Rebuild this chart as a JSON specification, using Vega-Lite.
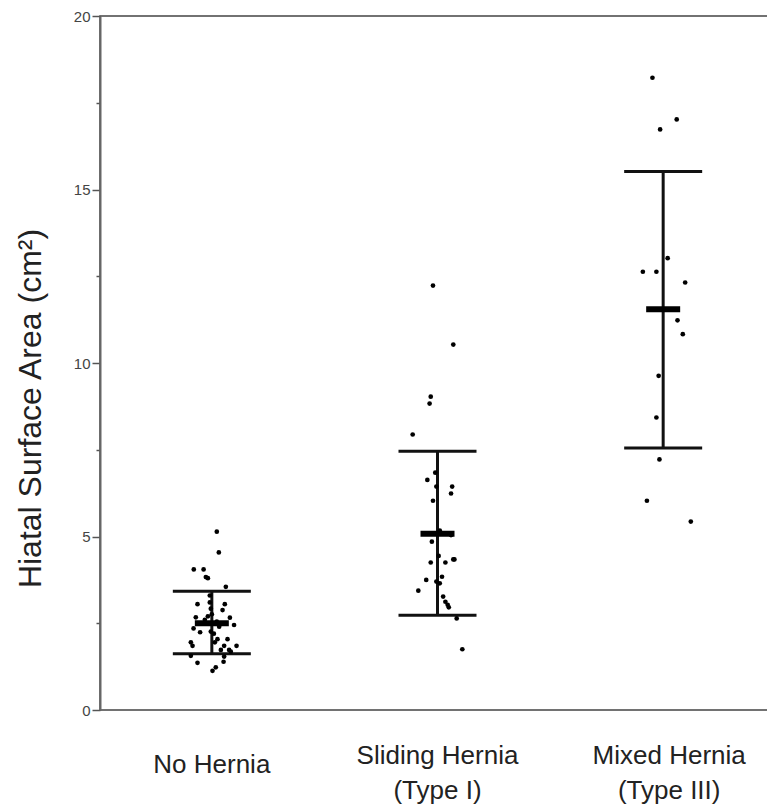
{
  "$schema": "https://vega.github.io/schema/vega-lite/v6.json",
  "autosize": "none",
  "width": 670,
  "height": 694,
  "padding": {"left": 100, "top": 16, "right": 0, "bottom": 102},
  "background": "white",
  "config": {
    "view": {"stroke": "#444", "strokeWidth": 1.5},
    "font": "Liberation Sans"
  },
  "datasets": {
    "points": [
      {"group": "No Hernia", "jitter": 0.044, "area": 5.14},
      {"group": "No Hernia", "jitter": 0.062, "area": 4.54},
      {"group": "No Hernia", "jitter": -0.16, "area": 4.05},
      {"group": "No Hernia", "jitter": -0.073, "area": 4.05},
      {"group": "No Hernia", "jitter": -0.053, "area": 3.83},
      {"group": "No Hernia", "jitter": -0.035, "area": 3.8},
      {"group": "No Hernia", "jitter": 0.124, "area": 3.55},
      {"group": "No Hernia", "jitter": -0.127, "area": 3.05},
      {"group": "No Hernia", "jitter": -0.018, "area": 3.3},
      {"group": "No Hernia", "jitter": -0.018, "area": 3.1},
      {"group": "No Hernia", "jitter": -0.009, "area": 2.92},
      {"group": "No Hernia", "jitter": 0.0, "area": 2.76},
      {"group": "No Hernia", "jitter": 0.115, "area": 3.05},
      {"group": "No Hernia", "jitter": 0.095, "area": 2.88},
      {"group": "No Hernia", "jitter": -0.142, "area": 2.67},
      {"group": "No Hernia", "jitter": 0.16, "area": 2.66},
      {"group": "No Hernia", "jitter": 0.197, "area": 2.45},
      {"group": "No Hernia", "jitter": -0.162, "area": 2.35},
      {"group": "No Hernia", "jitter": -0.104, "area": 2.24},
      {"group": "No Hernia", "jitter": -0.009, "area": 2.26},
      {"group": "No Hernia", "jitter": 0.065, "area": 2.4},
      {"group": "No Hernia", "jitter": 0.05, "area": 2.04},
      {"group": "No Hernia", "jitter": 0.139, "area": 2.04},
      {"group": "No Hernia", "jitter": -0.186, "area": 1.95},
      {"group": "No Hernia", "jitter": -0.171, "area": 1.85},
      {"group": "No Hernia", "jitter": 0.219, "area": 1.85},
      {"group": "No Hernia", "jitter": 0.109, "area": 1.85},
      {"group": "No Hernia", "jitter": 0.08, "area": 1.73},
      {"group": "No Hernia", "jitter": 0.153, "area": 1.73},
      {"group": "No Hernia", "jitter": 0.168, "area": 1.68},
      {"group": "No Hernia", "jitter": -0.186, "area": 1.56},
      {"group": "No Hernia", "jitter": 0.109, "area": 1.54},
      {"group": "No Hernia", "jitter": 0.104, "area": 1.39},
      {"group": "No Hernia", "jitter": -0.127, "area": 1.36},
      {"group": "No Hernia", "jitter": 0.035, "area": 1.23},
      {"group": "No Hernia", "jitter": 0.006, "area": 1.13},
      {"group": "No Hernia", "jitter": -0.062, "area": 2.6},
      {"group": "No Hernia", "jitter": 0.044, "area": 2.55},
      {"group": "No Hernia", "jitter": -0.035, "area": 2.7},
      {"group": "No Hernia", "jitter": 0.018, "area": 2.2},
      {"group": "No Hernia", "jitter": 0.027, "area": 1.95},
      {"group": "Sliding Hernia (Type I)", "jitter": -0.04, "area": 12.23},
      {"group": "Sliding Hernia (Type I)", "jitter": 0.14, "area": 10.53},
      {"group": "Sliding Hernia (Type I)", "jitter": -0.06, "area": 9.03},
      {"group": "Sliding Hernia (Type I)", "jitter": -0.07, "area": 8.83},
      {"group": "Sliding Hernia (Type I)", "jitter": -0.22, "area": 7.94},
      {"group": "Sliding Hernia (Type I)", "jitter": -0.02, "area": 6.84},
      {"group": "Sliding Hernia (Type I)", "jitter": -0.09, "area": 6.63},
      {"group": "Sliding Hernia (Type I)", "jitter": -0.01, "area": 6.44},
      {"group": "Sliding Hernia (Type I)", "jitter": 0.13, "area": 6.44},
      {"group": "Sliding Hernia (Type I)", "jitter": 0.12, "area": 6.24},
      {"group": "Sliding Hernia (Type I)", "jitter": -0.04, "area": 6.03},
      {"group": "Sliding Hernia (Type I)", "jitter": 0.02, "area": 5.17},
      {"group": "Sliding Hernia (Type I)", "jitter": 0.12, "area": 5.04},
      {"group": "Sliding Hernia (Type I)", "jitter": -0.05, "area": 4.85},
      {"group": "Sliding Hernia (Type I)", "jitter": 0.01, "area": 4.44},
      {"group": "Sliding Hernia (Type I)", "jitter": -0.06, "area": 4.25},
      {"group": "Sliding Hernia (Type I)", "jitter": 0.07, "area": 4.25},
      {"group": "Sliding Hernia (Type I)", "jitter": 0.14, "area": 4.34},
      {"group": "Sliding Hernia (Type I)", "jitter": 0.15, "area": 4.34},
      {"group": "Sliding Hernia (Type I)", "jitter": 0.04, "area": 3.84},
      {"group": "Sliding Hernia (Type I)", "jitter": -0.1, "area": 3.75},
      {"group": "Sliding Hernia (Type I)", "jitter": -0.01, "area": 3.7},
      {"group": "Sliding Hernia (Type I)", "jitter": 0.02, "area": 3.65},
      {"group": "Sliding Hernia (Type I)", "jitter": -0.17, "area": 3.44},
      {"group": "Sliding Hernia (Type I)", "jitter": 0.05, "area": 3.27},
      {"group": "Sliding Hernia (Type I)", "jitter": 0.07, "area": 3.12},
      {"group": "Sliding Hernia (Type I)", "jitter": 0.09, "area": 3.03},
      {"group": "Sliding Hernia (Type I)", "jitter": 0.1, "area": 2.96},
      {"group": "Sliding Hernia (Type I)", "jitter": 0.17, "area": 2.64},
      {"group": "Sliding Hernia (Type I)", "jitter": 0.22, "area": 1.75},
      {"group": "Mixed Hernia (Type III)", "jitter": -0.095, "area": 18.22},
      {"group": "Mixed Hernia (Type III)", "jitter": 0.12, "area": 17.02},
      {"group": "Mixed Hernia (Type III)", "jitter": -0.027, "area": 16.73},
      {"group": "Mixed Hernia (Type III)", "jitter": 0.04, "area": 13.02},
      {"group": "Mixed Hernia (Type III)", "jitter": -0.18, "area": 12.63},
      {"group": "Mixed Hernia (Type III)", "jitter": -0.06, "area": 12.63},
      {"group": "Mixed Hernia (Type III)", "jitter": 0.195, "area": 12.32},
      {"group": "Mixed Hernia (Type III)", "jitter": 0.127, "area": 11.23},
      {"group": "Mixed Hernia (Type III)", "jitter": 0.174, "area": 10.83},
      {"group": "Mixed Hernia (Type III)", "jitter": -0.04, "area": 9.63},
      {"group": "Mixed Hernia (Type III)", "jitter": -0.06, "area": 8.43},
      {"group": "Mixed Hernia (Type III)", "jitter": -0.033, "area": 7.22},
      {"group": "Mixed Hernia (Type III)", "jitter": -0.144, "area": 6.03},
      {"group": "Mixed Hernia (Type III)", "jitter": 0.245, "area": 5.43}
    ],
    "summary": [
      {"group": "No Hernia", "mean": 2.5, "lower": 1.62, "upper": 3.42},
      {"group": "Sliding Hernia (Type I)", "mean": 5.08, "lower": 2.73, "upper": 7.46},
      {"group": "Mixed Hernia (Type III)", "mean": 11.55, "lower": 7.55, "upper": 15.52}
    ]
  },
  "encoding": {
    "x": {
      "field": "group",
      "type": "nominal",
      "sort": ["No Hernia", "Sliding Hernia (Type I)", "Mixed Hernia (Type III)"],
      "scale": {"range": [-1, 676], "paddingInner": 0, "paddingOuter": 0},
      "axis": {
        "title": null,
        "domain": false,
        "ticks": false,
        "tickSize": 0,
        "labelAngle": 0,
        "labelFontSize": 26,
        "labelColor": "#222",
        "labelPadding": {"condition": {"test": "datum.value == 'No Hernia'", "value": 54}, "value": 45},
        "labelOffset": {"condition": {"test": "datum.value == 'Mixed Hernia (Type III)'", "value": 6}, "value": 0},
        "labelBaseline": "middle",
        "labelLineHeight": 35,
        "labelExpr": "datum.value == 'Sliding Hernia (Type I)' ? ['Sliding Hernia', '(Type I)'] : datum.value == 'Mixed Hernia (Type III)' ? ['Mixed Hernia', '(Type III)'] : datum.value"
      }
    }
  },
  "layer": [
    {
      "data": {"name": "summary"},
      "mark": {"type": "rule", "color": "#111", "strokeWidth": 3, "opacity": 1},
      "encoding": {
        "y": {
          "field": "lower",
          "type": "quantitative",
          "scale": {"domain": [0, 20], "nice": false},
          "axis": {
            "title": "Hiatal Surface Area (cm²)",
            "titleFontSize": 32,
            "titleFontWeight": "normal",
            "titleColor": "#222",
            "titleAngle": -90,
            "titleAlign": "center",
            "titleBaseline": "alphabetic",
            "titleX": -60,
            "titleY": 392,
            "values": [0, 2.5, 5, 7.5, 10, 12.5, 15, 17.5, 20],
            "labelExpr": "datum.value % 5 == 0 ? datum.label : ''",
            "labelFontSize": 15,
            "labelColor": "#444",
            "labelPadding": 2,
            "tickSize": {"condition": {"test": "datum.value % 5 != 0", "value": 4}, "value": 8},
            "tickColor": "#555",
            "tickWidth": 1.5,
            "domainColor": "#666",
            "domainWidth": 2,
            "grid": false
          }
        },
        "y2": {"field": "upper"}
      }
    },
    {
      "data": {"name": "summary"},
      "mark": {"type": "tick", "color": "#111", "size": 78, "thickness": 3, "opacity": 1},
      "encoding": {"y": {"field": "upper", "type": "quantitative"}}
    },
    {
      "data": {"name": "summary"},
      "mark": {"type": "tick", "color": "#111", "size": 78, "thickness": 3, "opacity": 1},
      "encoding": {"y": {"field": "lower", "type": "quantitative"}}
    },
    {
      "data": {"name": "summary"},
      "mark": {"type": "tick", "color": "#000", "size": 34, "thickness": 6, "opacity": 1},
      "encoding": {"y": {"field": "mean", "type": "quantitative"}}
    },
    {
      "data": {"name": "points"},
      "mark": {"type": "circle", "color": "#000", "opacity": 1, "size": 22},
      "encoding": {
        "xOffset": {"field": "jitter", "type": "quantitative", "scale": {"domain": [-1, 1]}},
        "y": {"field": "area", "type": "quantitative"}
      }
    }
  ]
}
